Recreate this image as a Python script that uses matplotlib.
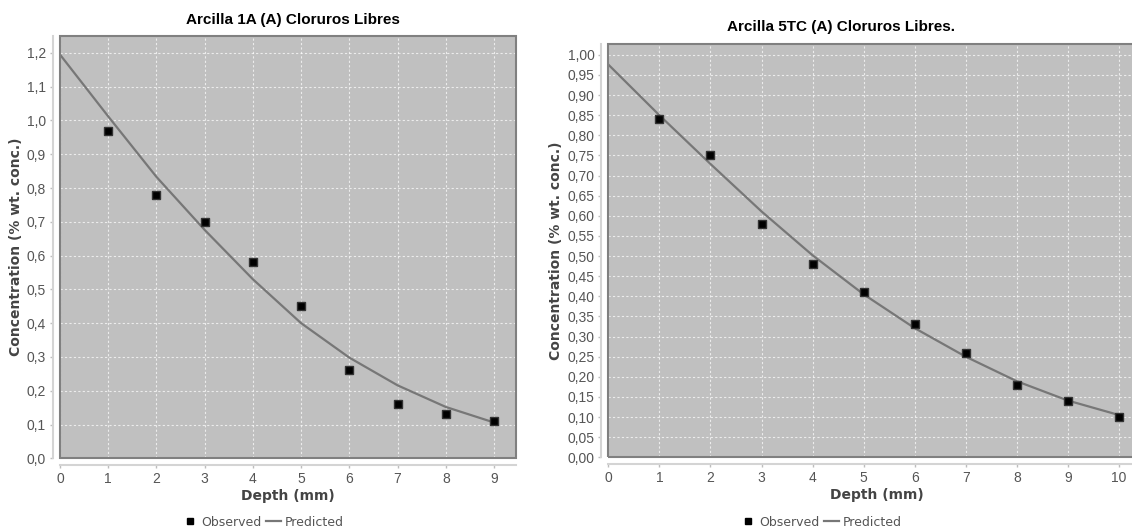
import numpy as np
import matplotlib
matplotlib.use("Agg")
import matplotlib.pyplot as plt
from matplotlib.patches import Rectangle
from matplotlib.lines import Line2D
from matplotlib.ticker import FuncFormatter, MultipleLocator

# left chart: Arcilla 1A
depth_1a = [1, 2, 3, 4, 5, 6, 7, 8, 9]
observed_1a = [0.97, 0.78, 0.70, 0.58, 0.45, 0.26, 0.16, 0.13, 0.11]
pred_depth_1a = [0, 1, 2, 3, 4, 5, 6, 7, 8, 9]
predicted_1a = [1.195, 1.012, 0.833, 0.676, 0.530, 0.400, 0.298, 0.216, 0.152, 0.106]

# right chart: Arcilla 5TC
depth_5tc = [1, 2, 3, 4, 5, 6, 7, 8, 9, 10]
observed_5tc = [0.84, 0.75, 0.58, 0.48, 0.41, 0.33, 0.26, 0.18, 0.14, 0.10]
pred_depth_5tc = [0, 1, 2, 3, 4, 5, 6, 7, 8, 9, 10]
predicted_5tc = [0.976, 0.850, 0.729, 0.611, 0.502, 0.405, 0.321, 0.250, 0.189, 0.141, 0.105]

title_1a = "Arcilla 1A (A) Cloruros Libres"
title_5tc = "Arcilla 5TC (A) Cloruros Libres."
xlabel = "Depth (mm)"
ylabel = "Concentration (% wt. conc.)"

W, H = 1132, 531
fig = plt.figure(figsize=(W / 100, H / 100), dpi=100)


def px_axes(x0, y0, x1, y1):
    return fig.add_axes([x0 / W, 1 - y1 / H, (x1 - x0) / W, (y1 - y0) / H])


def style_axes(ax, xmax, ymax, ystep, ydec):
    ax.set_facecolor("#c0c0c0")
    ax.set_xlim(0, xmax)
    ax.set_ylim(0, ymax)
    ax.xaxis.set_major_locator(MultipleLocator(1))
    ax.yaxis.set_major_locator(MultipleLocator(ystep))
    ax.yaxis.set_major_formatter(FuncFormatter(lambda v, p: f"{v:.{ydec}f}".replace(".", ",")))
    ax.grid(True, color="white", linestyle=(0, (2, 2)), linewidth=0.8, alpha=0.7)
    ax.set_axisbelow(True)
    for s in ["top", "right"]:
        ax.spines[s].set_visible(False)
    for s in ["left", "bottom"]:
        ax.spines[s].set_position(("outward", 5))
        ax.spines[s].set_color("#d4d4d4")
        ax.spines[s].set_linewidth(1.5)
    ax.add_patch(Rectangle((0, 0), 1, 1, transform=ax.transAxes, fill=False,
                           edgecolor="#808080", linewidth=1.5, zorder=5, clip_on=False))
    ax.tick_params(colors="#bdbdbd", labelcolor="#555555", length=2, width=1,
                   labelsize=10, pad=3)
    for lab in ax.get_xticklabels() + ax.get_yticklabels():
        lab.set_family("Liberation Sans")
    ax.set_xlabel(xlabel, fontsize=10, fontweight="bold", color="#444444", labelpad=2)
    ax.set_ylabel(ylabel, fontsize=10, fontweight="bold", color="#444444", labelpad=3)


ax1 = px_axes(60, 36, 515.7, 458.3)
ax1.plot(pred_depth_1a, predicted_1a, color="#777777", linewidth=1.6, zorder=3)
ax1.plot(depth_1a, observed_1a, "s", color="black", markersize=6,
         markeredgecolor="#333333", zorder=4, clip_on=False)
style_axes(ax1, 9.45, 1.25, 0.1, 1)

ax2 = px_axes(608.3, 44, 608.3 + 536.2, 457.3)
ax2.plot(pred_depth_5tc, predicted_5tc, color="#777777", linewidth=1.6, zorder=3)
ax2.plot(depth_5tc, observed_5tc, "s", color="black", markersize=6,
         markeredgecolor="#333333", zorder=4, clip_on=False)
style_axes(ax2, 10.5, 1.027, 0.05, 2)

fig.text(293 / W, 1 - 20 / H, title_1a, ha="center", va="center", fontsize=11,
         fontweight="bold", family="Liberation Sans", color="black")
fig.text(841 / W, 1 - 27 / H, title_5tc, ha="center", va="center", fontsize=11,
         fontweight="bold", family="Liberation Sans", color="black")

handles = [Line2D([], [], marker="s", linestyle="none", color="black", markersize=5),
           Line2D([], [], color="#777777", linewidth=1.6)]
labels = ["Observed", "Predicted"]
for cx in [263, 821]:
    fig.legend(handles, labels, loc="center", bbox_to_anchor=(cx / W, 1 - 522 / H),
               ncol=2, frameon=False, fontsize=9, labelcolor="#555555",
               handlelength=1.2, handletextpad=0.3, columnspacing=0.4)

fig.savefig("out.png", dpi=100)
